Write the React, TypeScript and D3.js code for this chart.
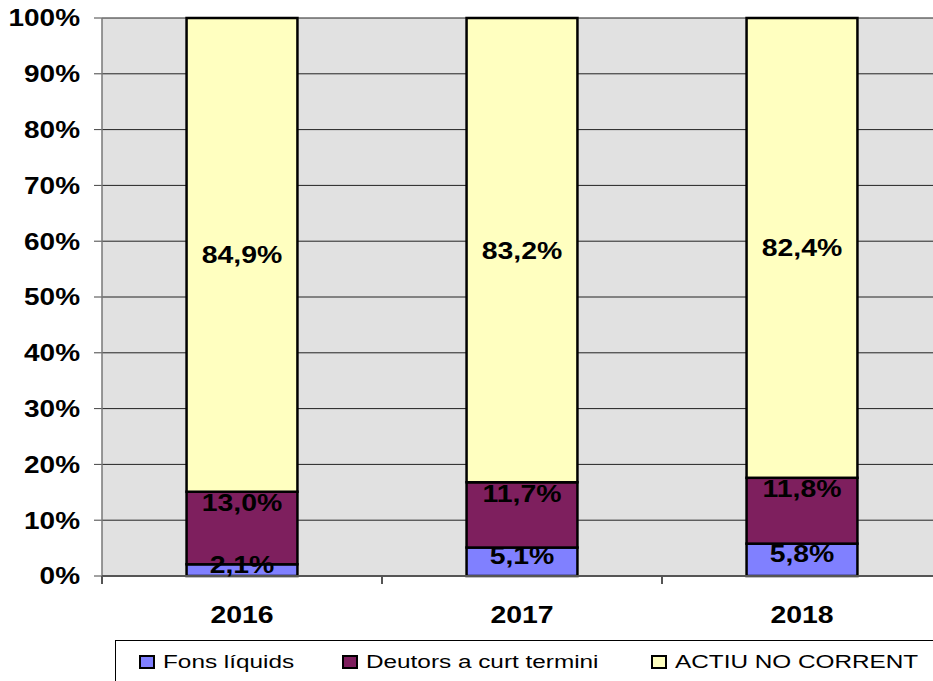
import React from "react";
import * as d3 from "d3";

const years = ["2016", "2017", "2018"];
const seriesNames = ["Fons líquids", "Deutors a curt termini", "ACTIU NO CORRENT"];
const fonsLiquids = [2.1, 5.1, 5.8];
const deutors = [13.0, 11.7, 11.8];
const actiuNoCorrent = [84.9, 83.2, 82.4];
const yTicks = [0, 10, 20, 30, 40, 50, 60, 70, 80, 90, 100];
const colors = ["#8080ff", "#7e1f5e", "#ffffc0"];

const W = 933;
const H = 681;
const FONT = "'Liberation Sans', Arial, sans-serif";

export default function App() {
  const left = 102;
  const right = 942;
  const top = 18;
  const bottom = 576;

  const x = d3.scaleBand<string>().domain(years).range([left, right]).paddingInner(0.604).paddingOuter(0.302);
  const xCat = d3.scaleBand<string>().domain(years).range([left, right]);
  const y = d3.scaleLinear().domain([0, 100]).range([bottom, top]);

  const rows = years.map((yr, i) => ({
    year: yr,
    "0": fonsLiquids[i],
    "1": deutors[i],
    "2": actiuNoCorrent[i],
  }));
  const stack = d3.stack<any>().keys(["0", "1", "2"]);
  const series = stack(rows);

  const fmt = (v: number) => v.toFixed(1).replace(".", ",") + "%";

  const labelY = (y0: number, y1: number) => {
    const t = y(y1);
    const b = y(y0);
    const h = b - t;
    const c = (t + b) / 2;
    if (h > 100) return c;
    return Math.min(t + 11, c - 6);
  };

  const legendX = [140, 343, 652];

  return (
    <svg
      width={W}
      height={H}
      style={{ position: "absolute", left: 0, top: 0, display: "block", background: "#fff" }}
    >
      <rect x={left} y={top} width={right - left} height={bottom - top} fill="#e1e1e1" />
      {yTicks.map((t) => (
        <g key={t}>
          {t > 0 && (
            <line x1={left} x2={right} y1={y(t)} y2={y(t)} stroke="#222" strokeWidth={1} />
          )}
          <line x1={94} x2={left} y1={y(t)} y2={y(t)} stroke="#444" strokeWidth={1} />
          <text
            transform={`translate(80,${y(t)}) scale(1.2,1)`}
            textAnchor="end"
            dy="0.36em"
            fontFamily={FONT}
            fontWeight="bold"
            fontSize={23.3}
            fill="#000"
          >
            {t}%
          </text>
        </g>
      ))}
      <line x1={left} x2={left} y1={top} y2={bottom + 7} stroke="#777" strokeWidth={1.5} />
      {series.map((s, si) =>
        s.map((d, i) => (
          <rect
            key={`${si}-${i}`}
            x={x(years[i])!}
            y={y(d[1])}
            width={x.bandwidth()}
            height={y(d[0]) - y(d[1])}
            fill={colors[si]}
            stroke="#000"
            strokeWidth={2.5}
          />
        ))
      )}
      <line x1={left} x2={right} y1={bottom} y2={bottom} stroke="#555" strokeWidth={2} />
      {years.map((yr) => (
        <line
          key={yr}
          x1={xCat(yr)!}
          x2={xCat(yr)!}
          y1={bottom}
          y2={bottom + 8}
          stroke="#555"
          strokeWidth={2}
        />
      ))}
      {series.map((s, si) =>
        s.map((d, i) => (
          <text
            key={`l${si}-${i}`}
            transform={`translate(${x(years[i])! + x.bandwidth() / 2},${labelY(d[0], d[1])}) scale(1.22,1)`}
            textAnchor="middle"
            dy="0.36em"
            fontFamily={FONT}
            fontWeight="bold"
            fontSize={23.3}
            fill="#000"
          >
            {fmt(d[1] - d[0])}
          </text>
        ))
      )}
      {years.map((yr) => (
        <text
          key={`c${yr}`}
          transform={`translate(${xCat(yr)! + xCat.bandwidth() / 2},615) scale(1.22,1)`}
          textAnchor="middle"
          dy="0.36em"
          fontFamily={FONT}
          fontWeight="bold"
          fontSize={23.3}
          fill="#000"
        >
          {yr}
        </text>
      ))}
      <rect x={115.5} y={640.5} width={830} height={60} fill="#fff" stroke="#000" strokeWidth={1} />
      {seriesNames.map((n, i) => (
        <g key={n}>
          <rect
            x={legendX[i]}
            y={656}
            width={14}
            height={12}
            fill={colors[i]}
            stroke="#000"
            strokeWidth={2}
          />
          <text
            transform={`translate(${legendX[i] + 23},668) scale(1.33,1)`}
            fontFamily={FONT}
            fontSize={18.3}
            fill="#000"
          >
            {n}
          </text>
        </g>
      ))}
    </svg>
  );
}
